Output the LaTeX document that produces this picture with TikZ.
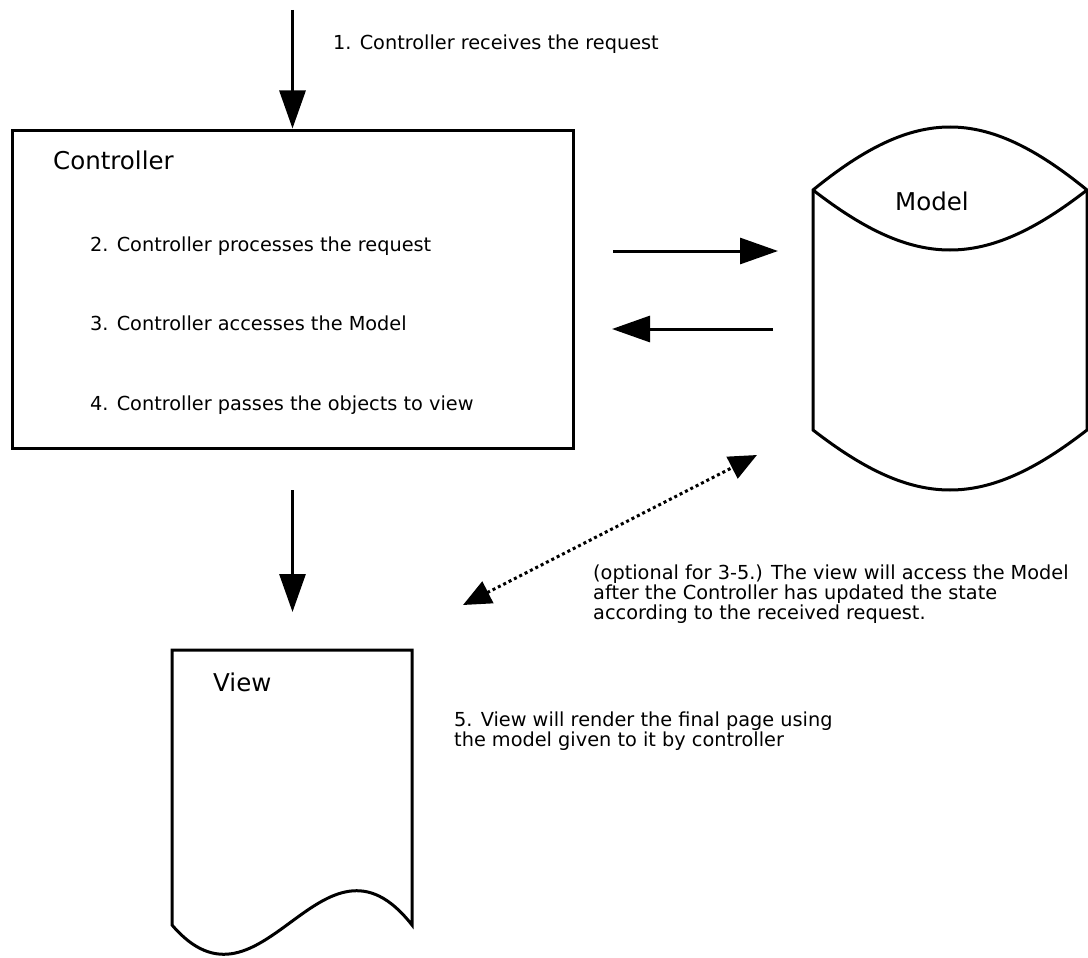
\documentclass[tikz,border=0pt]{standalone}
\usepackage{fontspec}
\setmainfont{DejaVu Sans}
\usetikzlibrary{arrows.meta}
\begin{document}
\begin{tikzpicture}[x=1pt,y=-1pt,
  shapeline/.style={draw=black,line width=3pt,line join=miter},
  flow/.style={draw=black,line width=3pt,-{Triangle[length=38pt,width=26pt]}},
  optflow/.style={draw=black,line width=3pt,dash pattern=on 3pt off 3pt,
     {Triangle[length=28pt,width=24pt]}-{Triangle[length=28pt,width=24pt]}},
  small/.style={font=\fontsize{19.3}{20}\selectfont,inner sep=0pt,anchor=base west},
  label/.style={font=\fontsize{24.5}{26}\selectfont,inner sep=0pt,anchor=base west}]
\useasboundingbox (0,0) rectangle (1088,958);
\fill[white] (0,0) rectangle (1088,958);

% Controller box
\node[shapeline,rectangle,minimum width=561pt,minimum height=318pt,inner sep=0pt] (ctrl) at (292.5,289) {};
\node[label] (ctrltitle) at (53,169) {Controller};
\node[small] (s2) at (90,251) {2. Controller processes the request};
\node[small] (s3) at (90,330) {3. Controller accesses the Model};
\node[small] (s4) at (90,410) {4. Controller passes the objects to view};

% incoming request
\coordinate (req) at (292.5,10);
\draw[flow] (req) -- (ctrl.north);
\node[small] (s1) at (333,50) {1. Controller receives the request};

% Model cylinder
\draw[shapeline,fill=white] (813,190) .. controls (916,106) and (984,106) .. (1087,190)
  -- (1087,430) .. controls (984,510) and (916,510) .. (813,430) -- cycle;
\draw[shapeline] (813,190) .. controls (916,270) and (984,270) .. (1087,190);
\node[label] (modeltitle) at (895,210) {Model};

% Controller <-> Model arrows
\coordinate (ra1) at (613,251);
\coordinate (ra2) at (778,251);
\coordinate (la1) at (773,329);
\coordinate (la2) at (612,329);
\draw[flow] (ra1) -- (ra2);
\draw[flow] (la1) -- (la2);

% Controller -> View arrow
\coordinate (da1) at (292.5,490);
\coordinate (da2) at (292.5,612);
\draw[flow] (da1) -- (da2);

% View document shape
\draw[shapeline,fill=white] (172,925) -- (172,650) -- (412,650) -- (412,925)
  .. controls (322,810) and (262,1030) .. (172,925) -- cycle;
\node[label] (viewtitle) at (213,691) {View};

% optional dotted access
\coordinate (oa1) at (757,455);
\coordinate (oa2) at (463,605);
\draw[optflow] (oa2) -- (oa1);
\node[small,align=left,anchor=north west,font=\fontsize{19.3}{20}\selectfont] (opt) at (593,564.5)
  {(optional for 3-5.) The view will access the Model\\after the Controller has updated the state\\according to the received request.};

\node[small,align=left,anchor=north west,font=\fontsize{19.3}{20}\selectfont] (s5) at (454,711.5)
  {5. View will render the final page using\\the model given to it by controller};
\end{tikzpicture}
\end{document}
